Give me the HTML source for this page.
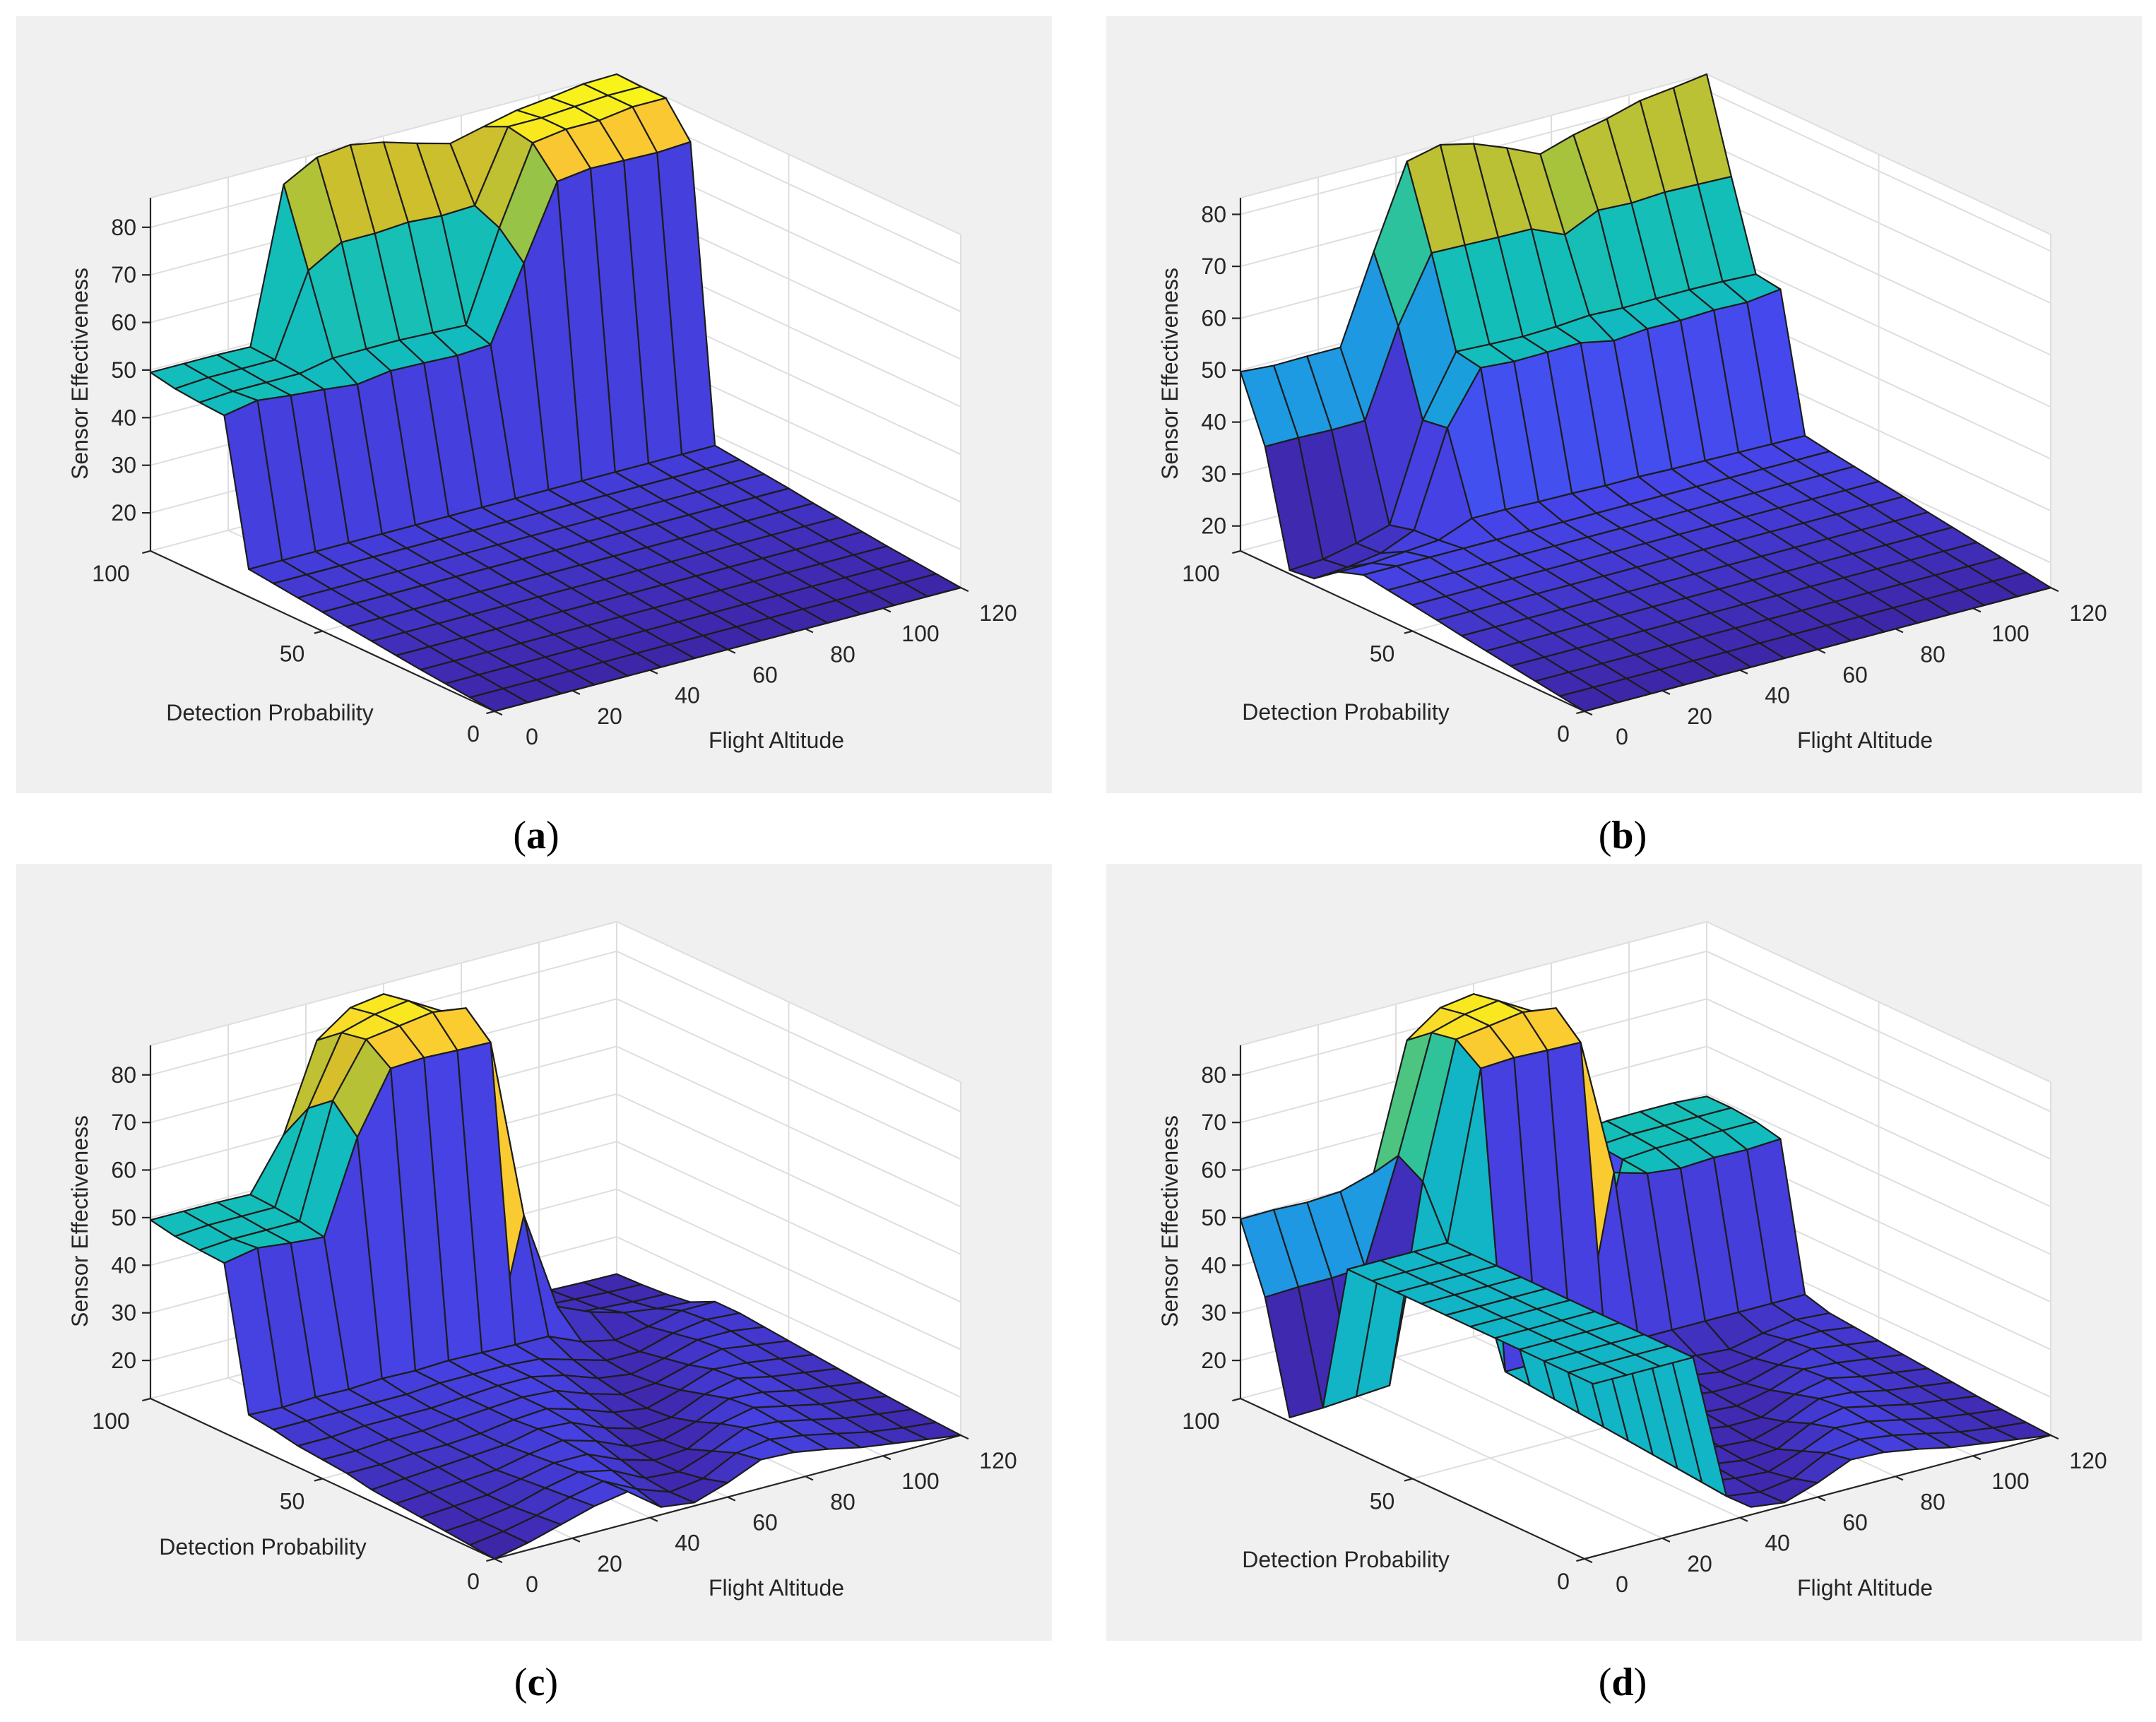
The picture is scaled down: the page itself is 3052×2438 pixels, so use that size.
<!DOCTYPE html>
<html><head><meta charset="utf-8"><title>Sensor effectiveness surfaces</title>
<style>html,body{margin:0;padding:0;background:#fff}svg{display:block}text{font-family:"Liberation Sans",Arial,sans-serif;fill:#262626}</style>
</head><body>
<svg id="chart" xmlns="http://www.w3.org/2000/svg" width="3052" height="2438" viewBox="0 0 3052 2438">
<rect x="0" y="0" width="3052" height="2438" fill="#ffffff"/>
</svg>
<script>
const xGrid=[0,8.571,17.143,25.714,34.286,42.857,51.429,60,68.571,77.143,85.714,94.286,102.857,111.429,120];
const yGrid=[0,7.143,14.286,21.429,28.571,35.714,42.857,50,57.143,64.286,71.429,78.571,85.714,92.857,100];
const xTicks=[0,20,40,60,80,100,120];
const yTicks=[0,50,100];
const zTicks=[20,30,40,50,60,70,80];
const zLimA=[12,86.2];
const zLimB=[15.2,83.2];
const zLimC=[12,86.2];
const zLimD=[12,86.2];
const zA=[
[12,12,12,12,12,12,12,12,12,12,12,12,12,12,12],
[12.5,12.5,12.5,12.5,12.5,12.5,12.5,12.5,12.5,12.5,12.5,12.5,12.5,12.5,12.5],
[13,13,13,13,13,13,13,13,13,13,13,13,13,13,13],
[13.5,13.5,13.5,13.5,13.5,13.5,13.5,13.5,13.5,13.5,13.5,13.5,13.5,13.5,13.5],
[14.1,14.1,14.1,14.1,14.1,14.1,14.1,14.1,14.1,14.1,14.1,14.1,14.1,14.1,14.1],
[14.7,14.7,14.7,14.7,14.7,14.7,14.7,14.7,14.7,14.7,14.7,14.7,14.7,14.7,14.7],
[15.3,15.3,15.3,15.3,15.3,15.3,15.3,15.3,15.3,15.3,15.3,15.3,15.3,15.3,15.3],
[16,16,16,16,16,16,16,16,16,16,16,16,16,16,16],
[16.6,16.6,16.6,16.6,16.6,16.6,16.6,16.6,16.6,16.6,16.6,16.6,16.6,16.6,16.6],
[17.2,17.2,17.2,17.2,17.2,17.2,17.2,17.2,17.2,17.2,17.2,17.2,17.2,17.2,17.2],
[17.8,17.8,17.8,17.8,17.8,17.8,17.8,17.8,17.8,17.8,17.8,17.8,17.8,17.8,17.8],
[47.7,49,48.2,47.6,46.8,47.8,47.6,47.3,47.7,63,78.3,79.2,79,78.8,79.2],
[48,48.5,48.5,48.5,49.9,50,50,49.7,49.4,68,84,85,85,86,86],
[48.5,49,49,49,65.9,70,70,70.5,70,70.3,85,85,85.5,86,86],
[49.5,49.5,49.5,49.3,81.6,85.4,86.2,84.9,82.8,80.9,82.6,84.2,85,86,86.2]];
const zB=[
[15.2,15.2,15.2,15.2,15.2,15.2,15.2,15.2,15.2,15.2,15.2,15.2,15.2,15.2,15.2],
[15.9,15.9,15.9,15.9,15.9,15.9,15.9,15.9,15.9,15.9,15.9,15.9,15.9,15.9,15.9],
[16.6,16.6,16.6,16.6,16.6,16.6,16.6,16.6,16.6,16.6,16.6,16.6,16.6,16.6,16.6],
[17.3,17.3,17.3,17.3,17.3,17.3,17.3,17.3,17.3,17.3,17.3,17.3,17.3,17.3,17.3],
[18,18,18,18,18,18,18,18,18,18,18,18,18,18,18],
[18.7,18.7,18.7,18.7,18.7,18.7,18.7,18.7,18.7,18.7,18.7,18.7,18.7,18.7,18.7],
[19.5,19.5,19.5,19.5,19.5,19.5,19.5,19.5,19.5,19.5,19.5,19.5,19.5,19.5,19.5],
[20.2,20.2,20.2,20.2,20.2,20.2,20.2,20.2,20.2,20.2,20.2,20.2,20.2,20.2,20.2],
[20.9,20.9,20.9,20.9,20.9,20.9,20.9,20.9,20.9,20.9,20.9,20.9,20.9,20.9,20.9],
[21.6,21.6,21.6,21.6,21.6,21.6,21.6,21.6,21.6,21.6,21.6,21.6,21.6,21.6,21.6],
[20,20,20.5,21,23.5,23.5,23.3,23.2,23,23,22.8,22.7,22.6,22.5,22.4],
[16.5,17,18,20.7,38.7,48.6,48.1,48.2,48.3,47,47.6,47.5,47.8,47.6,48.4],
[15.9,16.3,17.7,19.5,38,49.5,49.2,49,49.2,49.7,49.4,49.5,49.5,49.4,49.1],
[37.5,37.5,37.3,37.4,53.9,66.3,66.1,65.9,65.8,63,66,65.7,66.1,65.9,65.7],
[49.7,49.2,49.3,49.3,66,81.7,83.2,81.7,79.2,76.3,78.3,79.7,81.5,82.3,83.2]];
const zC=[
[12,13.5,15.5,17.5,18.7,13.6,12.7,15,18,17.7,16.5,15,14,13,12],
[12.5,13.5,15,17,18.5,15,12.5,13.5,17,18,17,15.5,14,13,12.3],
[13,13.5,14.5,16.5,18,16.5,13,12.5,15,18,17.5,16,14.5,13.5,12.6],
[13.5,14,14.5,16,17.5,17.5,14.5,12.5,13,16.5,18,16.5,15,14,13],
[14,14.5,15,15.5,17,18,16,13,12.5,14.5,17.5,17,15.5,14.5,13.5],
[14.5,15,15.5,16,16.5,18,17.5,14.5,12.5,13,16,17.5,16,15,14],
[15.5,15.5,16,16,16.5,17.5,18,16,13.5,12.5,14.5,17,16.5,15.5,14.5],
[16,16,16.5,16.5,17,17.5,18,17.5,15,13,13.5,15.5,17,16,15],
[16.5,16.5,17,17,17,17.5,18,18,16.5,14,13,14.5,16.5,16.5,15.5],
[17.5,17.5,17.5,17.5,17.5,18,18,18,17.5,15.5,13.5,13.5,15.5,16.5,16],
[18.2,17.9,18.2,18,18.4,18.2,18.5,18.3,18.1,18,15,13.5,14.5,16,16],
[47.7,49,48.2,47.6,66.7,79.3,79.7,79.4,79.2,41,20,17,15,14,13.5],
[48,48.5,48.5,48.5,72,83,84,85,84,16,15,14,13.5,13,12.8],
[48.5,49,49,49,68,82,84,85,81,15,14,13.5,13,12.6,12.4],
[49.5,49.5,49.5,49.3,60,78,83,84,80,14,13,12.8,12.5,12.3,12.2]];
const zD=[
[null,null,null,null,null,13.6,12.7,15,18,17.7,16.5,15,14,13,12],
[null,44.5,44.5,44.5,44.5,13.5,12.5,13.5,17,18,17,15.5,14,13,12.3],
[null,44.5,44.5,44.5,44.5,14,13,12.5,15,18,17.5,16,14.5,13.5,12.6],
[null,44.5,44.5,44.5,44.5,14.5,13.5,12.5,13,16.5,18,16.5,15,14,13],
[null,44.5,44.5,44.5,44.5,15,14.5,13,12.5,14.5,17.5,17,15.5,14.5,13.5],
[null,44.5,44.5,44.5,44.5,15.5,15,14,13,13,16,17.5,16,15,14],
[null,44.5,44.5,44.5,44.5,16,15.5,15,13.5,13,14.5,17,16.5,15.5,14.5],
[null,44.5,44.5,44.5,44.5,16.5,16,15.5,14.5,13.5,13.5,15.5,17,16,15],
[null,44.5,44.5,44.5,44.5,17,16.5,16,15.5,14.5,13.5,14.5,16.5,16.5,15.5],
[null,44.5,44.5,44.5,44.5,17.5,17,17,16.5,15.5,14.5,14,15.5,16.5,16],
[null,44.5,44.5,44.5,44.5,18,18,18,18,17.5,17.5,17.5,17.5,17.5,17.5],
[null,44.5,44.5,44.5,44.5,79.3,79.7,79.4,79.2,50,48,47.2,47.6,47.4,47.8],
[12.8,13,13.5,14,55,83,84,85,84,20,48.5,49,49,49,49],
[35.7,36,36,36.5,58,82,84,85,81,20,49,49.5,49.5,49.5,49.5],
[49.7,49.8,49.5,49.9,52,78,83,84,80,20,49,49.9,50,50,49.5]];

const SVGNS="http://www.w3.org/2000/svg";
const svg=document.getElementById('chart');
const PAR=[[62,38,168],[71,70,236],[50,115,248],[35,145,232],[15,176,206],[19,190,185],[55,196,145],[165,195,60],[212,190,42],[250,200,50],[248,245,25]];
function parula(t){t=Math.max(0,Math.min(1,t))*10;const i=Math.min(9,Math.floor(t));const f=t-i;const a=PAR[i],b=PAR[i+1];
return 'rgb('+Math.round(a[0]+(b[0]-a[0])*f)+','+Math.round(a[1]+(b[1]-a[1])*f)+','+Math.round(a[2]+(b[2]-a[2])*f)+')';}
function mk(tag,attrs,parent){const e=document.createElementNS(SVGNS,tag);for(const k in attrs)e.setAttribute(k,attrs[k]);parent.appendChild(e);return e;}

const panels=[
 {id:'a',ox:0,oy:0,lim:zLimA,Z:zA,dp:[382,1009],fa:[1099,1048],lt:[759,1183]},
 {id:'b',ox:1543,oy:0,lim:zLimB,Z:zB,dp:[362,1008],fa:[1097,1048],lt:[754,1183]},
 {id:'c',ox:0,oy:1200,lim:zLimC,Z:zC,dp:[372,990],fa:[1099,1048],lt:[759,1182]},
 {id:'d',ox:1543,oy:1200,lim:zLimD,Z:zD,dp:[362,1008],fa:[1097,1048],lt:[754,1182]}];

panels.forEach(p=>{
 const zmin=p.lim[0],zmax=p.lim[1];
 const P=(x,y,z)=>{const xn=x/120,yn=y/100,zn=(z-zmin)/(zmax-zmin);return [p.ox+700+660*xn-487*yn,p.oy+1007-175*xn-227*yn-500*zn];};
 const depth=(x,y,z)=>243.5*x/120+330*y/100-235*(z-zmin)/(zmax-zmin);
 const g=mk('g',{},svg);
 
 
 const bg=mk('rect',{x:p.ox+23,y:p.oy+23,width:1466,height:1100,fill:'#f0f0f0'},g);
 
 
 const pts=a=>a.map(q=>q[0].toFixed(1)+','+q[1].toFixed(1)).join(' ');
 const L0=P(0,100,zmin),F0=P(0,0,zmin),R0=P(120,0,zmin),L1=P(0,100,zmax),B1=P(120,100,zmax),R1=P(120,0,zmax);
 const wall=mk('polygon',{points:pts([L1,B1,R1,R0,F0,L0]),fill:'#ffffff'},g);
 
 
 const grid=mk('g',{stroke:'#dedede','stroke-width':2,fill:'none'},g);
 
 
 const line=(a,b,par)=>mk('line',{x1:a[0].toFixed(1),y1:a[1].toFixed(1),x2:b[0].toFixed(1),y2:b[1].toFixed(1)},par);
 xTicks.forEach(t=>{
  const l1=line(P(t,0,zmin),P(t,100,zmin),grid);
  
  
  const l2=line(P(t,100,zmin),P(t,100,zmax),grid);
  
  
 });
 yTicks.forEach(t=>{
  const l1=line(P(0,t,zmin),P(120,t,zmin),grid);
  
  
  const l2=line(P(120,t,zmin),P(120,t,zmax),grid);
  
  
 });
 zTicks.forEach(t=>{
  const l1=line(P(0,100,t),P(120,100,t),grid);
  
  
  const l2=line(P(120,100,t),P(120,0,t),grid);
  
  
 });
 [[L1,B1],[B1,R1]].forEach(s=>{const l=line(s[0],s[1],grid);
  
  });
 const ax=mk('g',{stroke:'#262626','stroke-width':2.2,fill:'none'},g);
 
 
 const za=line(L0,L1,ax);  
 const ya=line(L0,F0,ax);  
 const xa=line(F0,R0,ax);  
 zTicks.forEach(t=>{const q=P(0,100,t);const l=line([q[0]-12,q[1]],q,ax);
  
  });
 yTicks.forEach(t=>{const q=P(0,t,zmin);const l=line(q,[q[0]-11.6,q[1]+3.1],ax);
  
  });
 xTicks.forEach(t=>{const q=P(t,0,zmin);const l=line(q,[q[0]+10.9,q[1]+5.1],ax);
  
  });
 const faces=[];
 const Z=p.Z;
 for(let i=0;i<yGrid.length-1;i++){for(let j=0;j<xGrid.length-1;j++){
  const v=[Z[i][j],Z[i][j+1],Z[i+1][j+1],Z[i+1][j]];
  if(v.some(a=>a===null))continue;
  const c=[[xGrid[j],yGrid[i],v[0]],[xGrid[j+1],yGrid[i],v[1]],[xGrid[j+1],yGrid[i+1],v[2]],[xGrid[j],yGrid[i+1],v[3]]];
  const d=c.reduce((s,q)=>s+depth(q[0],q[1],q[2]),0)/4;
  faces.push({d:d,pts:c.map(q=>P(q[0],q[1],q[2])),col:parula((Z[i][j]-zmin)/(zmax-zmin))});
 }}
 faces.sort((a,b)=>b.d-a.d);
 const surf=mk('g',{stroke:'#1c1c1c','stroke-width':2.2,'stroke-linejoin':'round'},g);
 
 
 faces.forEach(f=>{const pg=mk('polygon',{points:pts(f.pts),fill:f.col},surf);
  
  });
 const txt=(s,x,y,attrs)=>{const t=mk('text',Object.assign({x:x.toFixed(1),y:y.toFixed(1),'font-size':32,'dominant-baseline':'central'},attrs||{}),g);t.textContent=s;return t;};
 zTicks.forEach(t=>{const q=P(0,100,t);const e=txt(String(t),q[0]-20,q[1],{'text-anchor':'end'});
  
  });
 yTicks.forEach(t=>{const q=P(0,t,zmin);const e=txt(String(t),q[0]-30-0.26*t,q[1]+32,{'text-anchor':'middle'});
  
  });
 xTicks.forEach(t=>{const q=P(t,0,zmin);const e=txt(String(t),q[0]+53,q[1]+36,{'text-anchor':'middle'});
  
  });
 const zt=txt('Sensor Effectiveness',p.ox+113,p.oy+529,{'text-anchor':'middle',transform:'rotate(-90 '+(p.ox+113)+' '+(p.oy+529)+')'});
 
 
 const yt=txt('Detection Probability',p.ox+p.dp[0],p.oy+p.dp[1],{'text-anchor':'middle'});
 
 
 const xt=txt('Flight Altitude',p.ox+p.fa[0],p.oy+p.fa[1],{'text-anchor':'middle'});
 
 
 const lt=mk('text',{x:p.ox+p.lt[0],y:p.oy+p.lt[1],'font-size':56,'text-anchor':'middle','dominant-baseline':'central',style:'font-family:"Liberation Serif",serif;fill:#000'},svg);
 
 
 const t1=document.createElementNS(SVGNS,'tspan');t1.textContent='(';lt.appendChild(t1);
 const t2=document.createElementNS(SVGNS,'tspan');t2.setAttribute('font-weight','bold');t2.textContent=p.id;lt.appendChild(t2);
 const t3=document.createElementNS(SVGNS,'tspan');t3.textContent=')';lt.appendChild(t3);
});
</script>
</body></html>
